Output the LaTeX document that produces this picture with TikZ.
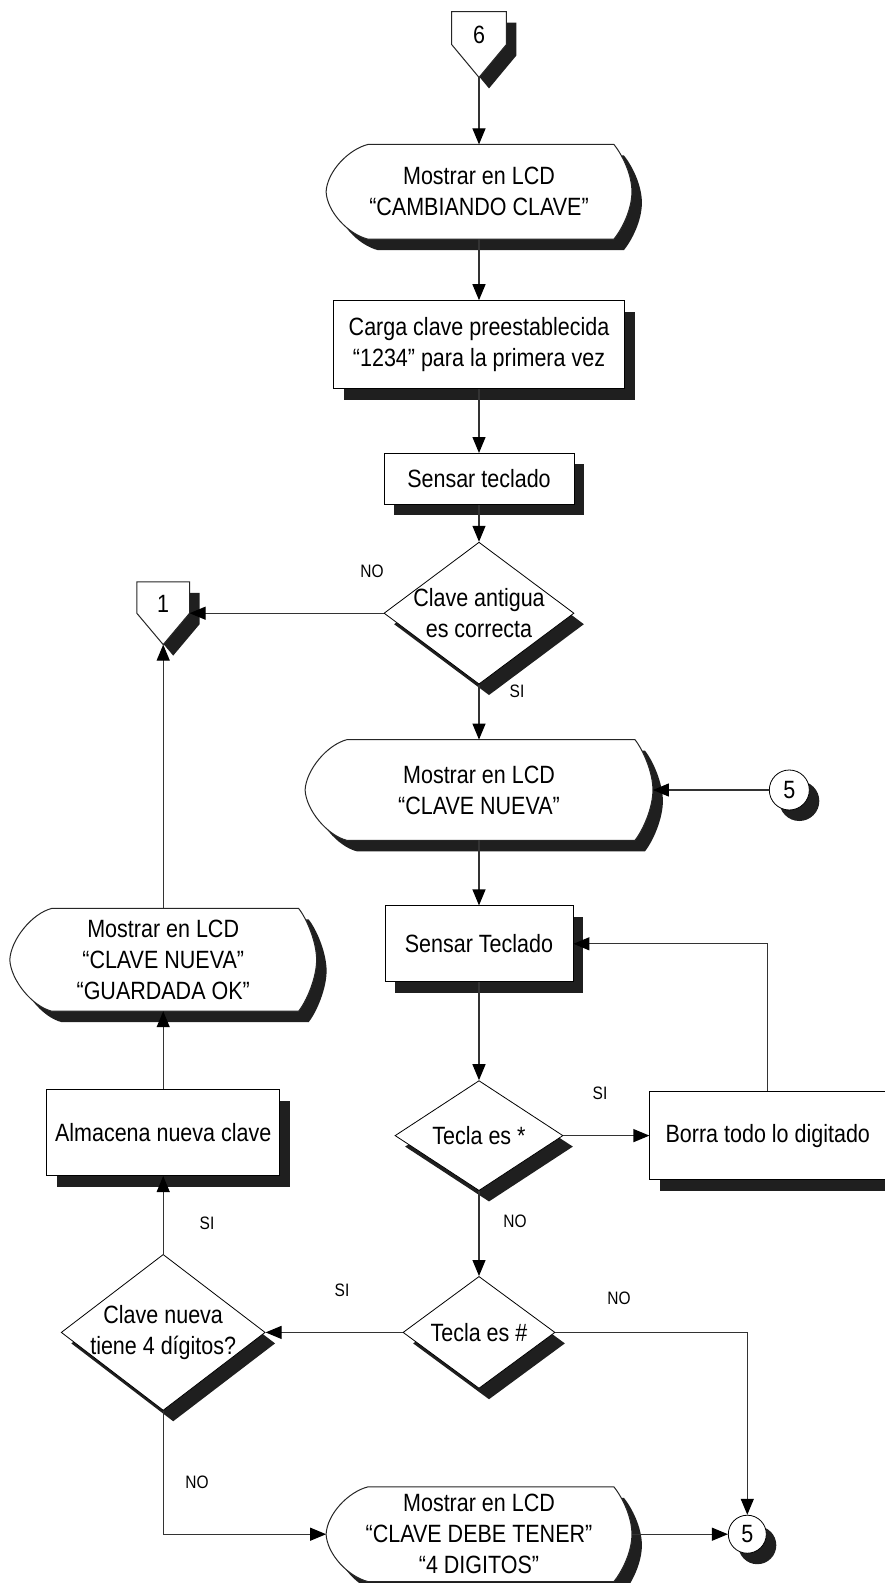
\documentclass[tikz,border=0pt]{standalone}
\usepackage{fontspec}
\setmainfont{Liberation Sans}[FakeStretch=0.86]
\usepackage{tikz}
\usetikzlibrary{arrows.meta,calc,positioning,shapes.geometric,shadows}
\pgfdeclarelayer{background}
\pgfsetlayers{background,main}
\newcommand{\lcdfont}{\fontsize{12.5}{15.5}\selectfont}

\tikzset{
  dshadow/.style={drop shadow={shadow xshift=5pt,shadow yshift=-5.5pt,fill=black!88,opacity=1}},
  txt/.style={font=\lcdfont,align=center},
  flow/.style={draw=black!80,line width=0.6pt,-{Triangle[length=8pt,width=6.5pt,black]}},
  lbl/.style={font=\fontsize{9}{11}\selectfont,inner sep=0pt}
}

\begin{document}
\begin{tikzpicture}[x=0.5pt,y=-0.5pt,
  procbox/.style 2 args={txt,draw,fill=white,dshadow,inner sep=1pt,minimum width=#1,minimum height=#2},
  decision/.style n args={3}{txt,diamond,draw,fill=white,dshadow,inner sep=-3pt,shape aspect=#3,
             minimum width=#1,minimum height=#2},
  display/.style 2 args={txt,inner sep=0pt,minimum width=#1,minimum height=#2},
  offpage/.style 2 args={txt,inner sep=0pt,minimum width=#1,minimum height=#2,text height=9pt,text depth=9.5pt},
  conn/.style={txt,circle,draw,fill=white,dshadow,inner sep=0pt,minimum size=#1}]
  \useasboundingbox (0,0) rectangle (884,1583);

  % main column
  \node[offpage={27pt}{32.5pt}] (c6) at (479,44.5) {6};
  \node[display={152.5pt}{47pt},below=33.5pt of c6] (d1) {Mostrar en LCD\\“CAMBIANDO CLAVE”};
  \node[procbox={145.5pt}{44pt},below=30.5pt of d1] (b1) {Carga clave preestablecida\\“1234” para la primera vez};
  \node[procbox={95pt}{25.5pt},below=32pt of b1] (b2) {Sensar teclado};
  \node[decision={95pt}{71pt}{1.34},below=18.5pt of b2] (q1) {Clave antigua\\es correcta};
  \node[display={173.5pt}{50pt},below=27.5pt of q1] (d2) {Mostrar en LCD\\“CLAVE NUEVA”};
  \node[procbox={94pt}{38pt},below=32.5pt of d2] (b3) {Sensar Teclado};
  \node[decision={84pt}{55pt}{1.53},below=49pt of b3] (q2) {Tecla es *};
  \node[decision={76pt}{56pt}{1.36},below=42.5pt of q2] (q3) {Tecla es \#};
  \node[display={152.5pt}{47pt},below=49pt of q3] (d4) {Mostrar en LCD\\“CLAVE DEBE TENER”\\“4 DIGITOS”};

  % side branches
  \node[offpage={26pt}{31pt},left=97pt of q1] (c1) {1};
  \node[conn=20pt,right=58pt of d2] (k5a) {5};
  \node[procbox={118pt}{44pt},right=43pt of q2] (b4) {Borra todo lo digitado};
  \node[decision={102pt}{78pt}{1.31},left=68.5pt of q3] (q4) {Clave nueva\\tiene 4 dígitos?};
  \node[procbox={116.5pt}{43pt},above=39pt of q4] (b5) {Almacena nueva clave};
  \node[display={153pt}{51pt},above=39pt of b5] (d3) {Mostrar en LCD\\“CLAVE NUEVA”\\“GUARDADA OK”};
  \node[conn=19pt,right=48pt of d4] (k5b) {5};

  % display and off-page outlines
  \begin{pgfonlayer}{background}
    \foreach \s in {d1,d2,d3,d4}
      \path[draw=black!85,line width=0.5pt,fill=white,dshadow]
        let \p1=(\s.north west),\p2=(\s.south east),\p3=(\s.center) in
        (\x1+21pt,\y1) -- (\x2-9pt,\y1)
        .. controls (\x2-5pt,\y1-5pt) and (\x2,\y3+9pt) .. (\x2,\y3)
        .. controls (\x2,\y3-9pt) and (\x2-5pt,\y2+5pt) .. (\x2-9pt,\y2)
        -- (\x1+21pt,\y2)
        .. controls (\x1+11pt,\y2+2.5pt) and (\x1+0.5pt,\y3-10pt) .. (\x1,\y3)
        .. controls (\x1+0.5pt,\y3+10pt) and (\x1+11pt,\y1-2.5pt) .. cycle;
    \foreach \s in {c6,c1}
      \path[draw=black!85,line width=0.5pt,fill=white,dshadow]
        (\s.north west) -- (\s.north east) -- (\s.east) -- (\s.south) -- (\s.west) -- cycle;
  \end{pgfonlayer}

  % branch labels
  \node[lbl] (q1no) at (372,571) {NO};
  \node[lbl] (q1si) at (517,691) {SI};
  \node[lbl] (q2si) at (600,1093) {SI};
  \node[lbl] (q2no) at (515,1221) {NO};
  \node[lbl] (q3no) at (619,1298) {NO};
  \node[lbl] (q3si) at (342,1290) {SI};
  \node[lbl] (q4si) at (207,1223) {SI};
  \node[lbl] (q4no) at (197,1482) {NO};

  \foreach \a/\b in {c6/d1,d1/b1,b1/b2,b2/q1,q1/c1,q1/d2,k5a/d2,d2/b3,b3/q2,q2/b4,
                     q2/q3,q3/q4,q4/b5,b5/d3,d3/c1,d4/k5b}
    \draw[flow] (\a) -- (\b);
  \draw[flow] (b4.north) |- (b3.east);
  \draw[flow] (q3.east) -| (k5b.north);
  \draw[flow] (q4.south) |- (d4.west);
\end{tikzpicture}
\end{document}
